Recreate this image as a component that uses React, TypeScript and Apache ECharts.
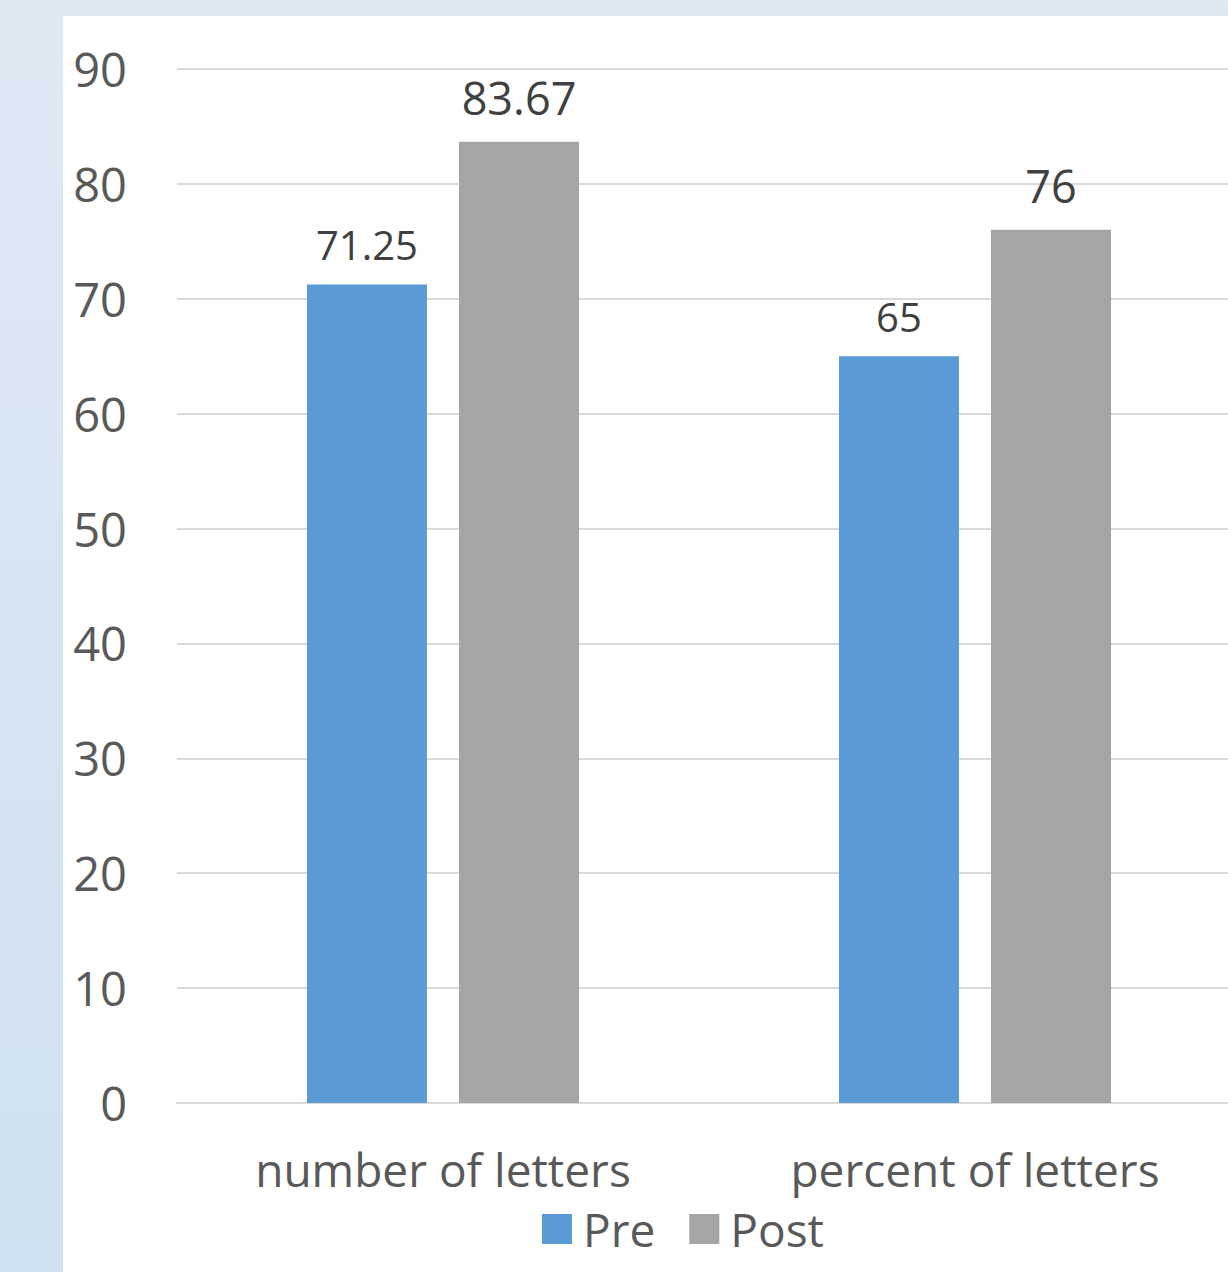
import React, { useEffect, useRef } from "react";
import * as echarts from "echarts";

const categories = ["number of letters", "percent of letters"];
const preValues = [71.25, 65];
const postValues = [83.67, 76];
const yTicks = { min: 0, max: 90, interval: 10 };

const FONT = "'Open Sans', 'Noto Sans', sans-serif";

export default function App() {
  const ref = useRef<HTMLDivElement>(null);

  useEffect(() => {
    if (!ref.current) return;
    const chart = echarts.init(ref.current, null, { renderer: "svg" });
    chart.setOption({
      animation: false,
      textStyle: { fontFamily: FONT },
      grid: { left: 114, right: 22, top: 53, bottom: 169, containLabel: false },
      legend: {
        left: 474,
        top: 1185,
        itemWidth: 30,
        itemHeight: 30,
        itemGap: 34,
        icon: "rect",
        textStyle: { fontSize: 46, color: "#595959", fontFamily: FONT, padding: [0, 0, 0, 6] },
        data: ["Pre", "Post"],
      },
      xAxis: {
        type: "category",
        data: categories,
        axisLine: { lineStyle: { color: "#d9d9d9", width: 2 } },
        axisTick: { show: false },
        axisLabel: { fontSize: 46, color: "#595959", margin: 43, fontFamily: FONT },
      },
      yAxis: {
        type: "value",
        min: yTicks.min,
        max: yTicks.max,
        interval: yTicks.interval,
        axisLine: { show: false },
        axisTick: { show: false },
        splitLine: { lineStyle: { color: "#d9d9d9", width: 2 } },
        axisLabel: {
          fontSize: 47,
          color: "#595959",
          margin: 50,
          fontFamily: FONT,
          padding: [0, 0, 10, 0],
        },
      },
      series: [
        {
          name: "Pre",
          type: "bar",
          data: preValues,
          barWidth: 120,
          barGap: "26.7%",
          itemStyle: { color: "#5b9bd5" },
          label: {
            show: true,
            position: "top",
            distance: 20,
            fontSize: 40,
            color: "#404040",
            fontFamily: FONT,
          },
        },
        {
          name: "Post",
          type: "bar",
          data: postValues,
          barWidth: 120,
          barGap: "26.7%",
          itemStyle: { color: "#a5a5a5" },
          label: {
            show: true,
            position: "top",
            distance: 22,
            fontSize: 45,
            color: "#404040",
            fontFamily: FONT,
          },
        },
      ],
    });
    return () => chart.dispose();
  }, []);

  return (
    <div
      style={{
        position: "absolute",
        left: 0,
        top: 0,
        width: 1228,
        height: 1272,
        overflow: "hidden",
        background: "linear-gradient(to bottom, #dfe9f4, #cfe1f2)",
      }}
    >
      <div
        style={{
          position: "absolute",
          left: 63,
          top: 16,
          width: 1200,
          height: 1256,
          background: "#ffffff",
        }}
      >
        <div ref={ref} style={{ width: 1200, height: 1256 }} />
      </div>
    </div>
  );
}
